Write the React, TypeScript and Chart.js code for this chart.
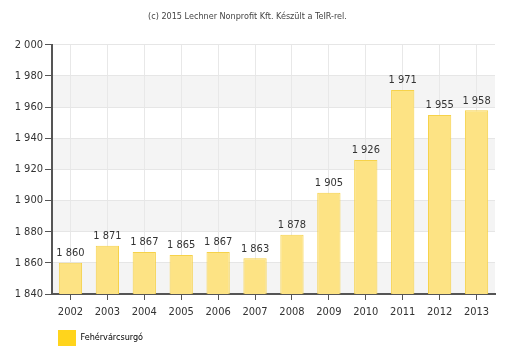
import React, { useEffect, useRef } from "react";
import { Chart, registerables } from "chart.js";

Chart.register(...registerables);

const years = ["2002", "2003", "2004", "2005", "2006", "2007", "2008", "2009", "2010", "2011", "2012", "2013"];
const population = [1860, 1871, 1867, 1865, 1867, 1863, 1878, 1905, 1926, 1971, 1955, 1958];
const seriesName = "Fehérvárcsurgó";
const titleText = "(c) 2015 Lechner Nonprofit Kft. Készült a TeIR-rel.";
const yMin = 1840;
const yMax = 2000;
const yStep = 20;

const FONT = "Tahoma, 'DejaVu Sans Condensed', 'DejaVu Sans', sans-serif";

const fmt = (v: number) => {
  const s = String(Math.round(v));
  return s.replace(/\B(?=(\d{3})+(?!\d))/g, " ");
};

const bandsPlugin = {
  id: "bands",
  beforeDraw(chart: any) {
    const { ctx, chartArea, scales } = chart;
    const y = scales.y;
    ctx.save();
    ctx.fillStyle = "#f4f4f4";
    for (let v = yMin; v < yMax; v += yStep * 2) {
      const top = y.getPixelForValue(v + yStep);
      const bottom = y.getPixelForValue(v);
      ctx.fillRect(chartArea.left, top, chartArea.right - chartArea.left, bottom - top);
    }
    ctx.restore();
  },
};

const labelsPlugin = {
  id: "valueLabels",
  afterDatasetsDraw(chart: any) {
    const { ctx } = chart;
    const meta = chart.getDatasetMeta(0);
    ctx.save();
    ctx.font = `11px ${FONT}`;
    ctx.fillStyle = "#333";
    ctx.textAlign = "center";
    ctx.textBaseline = "bottom";
    meta.data.forEach((bar: any, i: number) => {
      ctx.fillText(fmt(population[i]), bar.x, bar.y - 4);
    });
    ctx.restore();
  },
};

export default function App() {
  const ref = useRef<HTMLCanvasElement | null>(null);
  useEffect(() => {
    document.body.style.margin = "0";
    if (!ref.current) return;
    const chart = new Chart(ref.current, {
      type: "bar",
      data: {
        labels: years,
        datasets: [
          {
            label: seriesName,
            data: population,
            backgroundColor: "#fde384",
            borderColor: "#f6d24a",
            borderWidth: 1,
            barPercentage: 0.63,
            categoryPercentage: 1,
          },
        ],
      },
      options: {
        animation: false,
        responsive: false,
        layout: { padding: { left: 0, right: 20, top: 0, bottom: 0 } },
        plugins: {
          title: {
            display: true,
            text: titleText,
            color: "#444",
            font: { family: FONT, size: 9, weight: "normal" },
            padding: { top: 11, bottom: 23 },
          },
          legend: {
            position: "bottom",
            align: "start",
            fullSize: false,
            labels: {
              boxWidth: 18,
              boxHeight: 16,
              padding: 6,
              color: "#444",
              font: { family: FONT, size: 9 },
              generateLabels: () => [
                {
                  text: seriesName,
                  fillStyle: "#ffd41c",
                  strokeStyle: "#ffd41c",
                  lineWidth: 0,
                  hidden: false,
                  datasetIndex: 0,
                },
              ],
            },
          },
          tooltip: { enabled: false },
        },
        scales: {
          x: {
            grid: {
              offset: false,
              color: "#e8e8e8",
              tickColor: "#555",
              tickLength: 6,
              drawOnChartArea: true,
            },
            border: { color: "#555", width: 2 },
            ticks: { color: "#333", font: { family: FONT, size: 11 }, padding: 6 },
            afterFit: (axis: any) => {
              axis.height = 30;
            },
          },
          y: {
            min: yMin,
            max: yMax,
            grid: { color: "#e6e6e6", tickColor: "#555", tickLength: 7 },
            border: { color: "#555", width: 2 },
            ticks: {
              stepSize: yStep,
              color: "#333",
              font: { family: FONT, size: 11 },
              padding: 2,
              callback: (v: any) => fmt(Number(v)),
            },
            afterFit: (axis: any) => {
              axis.width = 52;
            },
          },
        },
      },
      plugins: [bandsPlugin, labelsPlugin],
    });
    return () => chart.destroy();
  }, []);
  return (
    <div style={{ width: 515, height: 356 }}>
      <canvas ref={ref} width={515} height={356} style={{ display: "block" }} />
    </div>
  );
}
